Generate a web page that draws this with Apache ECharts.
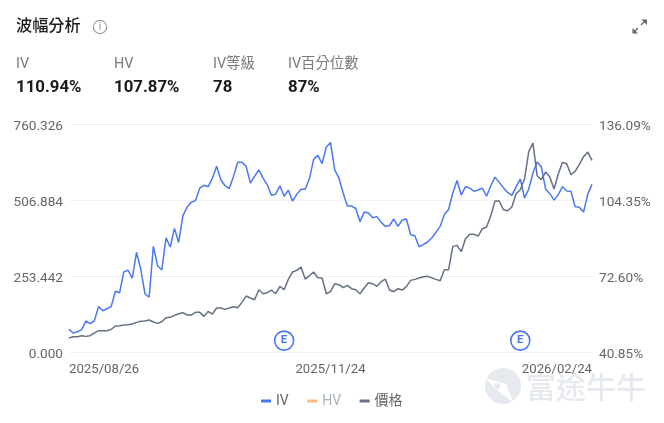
<!DOCTYPE html>
<html><head><meta charset="utf-8">
<style>html,body{margin:0;padding:0;background:#fff}#c{width:664px;height:423px}</style>
<script src="https://cdn.jsdelivr.net/npm/echarts@6/dist/echarts.min.js"></script>
</head><body><div id="c"></div>
<script>
const FONT = 'Roboto, "Noto Sans CJK TC", sans-serif';
const tickDates = {0:'2025/08/26', 62:'2025/11/24', 124:'2026/02/24'};
const ivValues = [50.3,48.8,49.3,50.2,53.8,52.7,53.8,59.8,58.1,58.9,59.8,66.2,65.6,74.3,75.0,71.7,82.5,75.5,65.2,63.7,85.0,76.9,75.1,88.5,84.7,92.5,86.6,97.8,101.4,103.4,104.1,109.3,110.5,109.9,113.5,118.4,
112.8,110.3,109.1,114.2,120.1,120.1,118.4,111.4,114.2,116.9,113.5,110.7,106.3,106.8,110.3,105.9,108.5,103.9,106.7,108.8,108.8,113.2,121.3,123.0,119.5,126.5,128.4,116.9,113.5,107.3,101.8,101.8,100.8,95.3,99.3,98.9,96.9,97.4,95.1,93.3,93.7,96.4,93.3,96.0,96.4,89.8,89.4,84.8,85.7,86.8,88.5,90.8,
93.3,98.3,100.4,107.3,112.5,106.4,110.0,109.3,108.0,108.5,109.3,105.9,110.3,113.9,111.7,109.5,107.5,106.3,109.8,113.1,105.2,108.9,115.6,120.2,118.1,108.9,107.0,104.3,106.6,109.9,108.1,108.0,101.5,101.3,99.3,106.8,110.94];
const priceValues = [46.6,51.0,51.0,54.4,52.1,54.4,63.2,71.0,71.0,71.0,75.5,86.6,87.7,89.9,91.0,93.3,98.8,102.2,103.3,106.6,99.9,95.5,101.0,114.4,115.5,122.2,127.7,131.0,123.3,123.3,132.2,132.2,118.8,135.5,126.6,146.6,
146.6,142.2,146.6,151.1,147.7,165.5,186.6,180.0,174.4,207.8,194.4,197.7,206.6,194.4,218.9,207.8,242.2,266.7,272.2,283.3,243.3,254.4,266.7,247.8,246.7,194.4,201.1,227.8,224.4,214.4,222.2,211.1,207.8,194.4,213.3,231.1,227.8,218.9,234.4,243.3,206.6,201.1,211.1,206.6,217.8,238.9,242.2,246.7,251.1,252.2,247.8,242.2,
237.8,274.4,274.4,352.3,355.6,334.5,377.8,392.3,392.3,386.7,411.2,416.7,454.5,503.4,503.4,474.5,471.2,483.4,527.9,541.2,576.8,667.9,696.8,587.9,574.6,600.1,583.5,543.4,593.5,632.4,627.9,591.2,602.4,625.7,651.3,666.8,639.0];
const hvValues = [];
const earningsIndex = [51, 107];
const stats = [['IV','110.94%'],['HV','107.87%'],['IV等級','78'],['IV百分位數','87%']];
const leftTicks = ['0.000','253.442','506.884','760.326'];
const rightTicks = ['40.85%','72.60%','104.35%','136.09%'];
const categories = ivValues.map((_, i) => tickDates[i] || String(i));

const BLUE='#4a78f2', GREY='#667085', ORANGE='#fdb782';
const statX=[16,114,213,288];
const ICON='#666';
const graphics=[
 {type:'text',x:16,y:27,style:{text:'波幅分析',font:'500 16.2px '+FONT,fill:'#1a1a1a',verticalAlign:'middle'}},
 {type:'circle',shape:{cx:100,cy:27,r:6.6},style:{fill:'none',stroke:'#a0a0a0',lineWidth:1.2}},
 {type:'text',x:100,y:27.5,style:{text:'i',font:'10px '+FONT,fill:'#909090',align:'center',verticalAlign:'middle'}},
 {type:'line',shape:{x1:641,y1:25,x2:645,y2:21},style:{stroke:ICON,lineWidth:1.3}},
 {type:'polygon',shape:{points:[[647,19.5],[647,25],[641.5,19.5]]},style:{fill:ICON}},
 {type:'line',shape:{x1:634,y1:32,x2:638,y2:28},style:{stroke:ICON,lineWidth:1.3}},
 {type:'polygon',shape:{points:[[632.5,33.5],[632.5,28],[638,33.5]]},style:{fill:ICON}},
 // watermark
 {type:'circle',shape:{cx:503,cy:386,r:18},style:{fill:'#e6eaee'},z:0},
 {type:'circle',shape:{cx:497,cy:386,r:3.5},style:{fill:'#fff'},z:0},
 {type:'polygon',shape:{points:[[485,378],[506,384],[513,402],[500,392]]},style:{fill:'#fff'},z:0},
 {type:'circle',shape:{cx:497,cy:386,r:3},style:{fill:'#e6eaee'},z:0},
 {type:'text',x:526,y:387,style:{text:'富途牛牛',font:'500 30px "Noto Sans CJK TC"',fill:'#e6eaee',verticalAlign:'middle'},z:0}
];
stats.forEach((s,i)=>{
 graphics.push({type:'text',x:statX[i],y:64,style:{text:s[0],font:'14.4px '+FONT,fill:'#7a7a7a',verticalAlign:'middle'}});
 graphics.push({type:'text',x:statX[i],y:88,style:{text:s[1],font:'700 16.8px '+FONT,fill:'#1a1a1a',verticalAlign:'middle'}});
});
const lineSeries=(name,data,color,yAxisIndex,extra)=>Object.assign({name,type:'line',data,yAxisIndex,symbol:'none',smooth:false,
 lineStyle:{color,width:1.5},itemStyle:{color},animation:false,z:3},extra||{});
const chart=echarts.init(document.getElementById('c'),null,{renderer:'canvas'});
chart.setOption({
 animation:false,backgroundColor:'#fff',
 textStyle:{fontFamily:FONT},
 grid:{left:69,right:72,top:124,bottom:71,containLabel:false},
 legend:{bottom:10,left:256,icon:'rect',itemWidth:10,itemHeight:3,itemGap:18.5,selectedMode:false,
  textStyle:{fontSize:14,color:'#666',fontFamily:FONT},
  data:[{name:'IV'},{name:'HV',textStyle:{color:'#aab2bd'}},{name:'價格'}]},
 xAxis:{type:'category',data:categories,boundaryGap:false,
  axisLine:{show:false},axisTick:{show:false},splitLine:{show:false},
  axisLabel:{interval:61,margin:11,fontSize:13.2,color:'#666',alignMinLabel:'left',alignMaxLabel:'right',hideOverlap:false}},
 yAxis:[
  {type:'value',min:0,max:760.326,interval:253.442,position:'left',
   axisLine:{show:false},axisTick:{show:false},splitLine:{lineStyle:{color:'#f2f2f2',width:1}},
   axisLabel:{margin:6,fontSize:13.6,color:'#666',verticalAlign:'top',lineHeight:6,formatter:(v,i)=>leftTicks[i]}},
  {type:'value',min:40.85,max:136.09,interval:31.7467,position:'right',
   axisLine:{show:false},axisTick:{show:false},splitLine:{show:false},
   axisLabel:{margin:7,fontSize:13.6,color:'#666',verticalAlign:'top',lineHeight:6,formatter:(v,i)=>rightTicks[i]}}
 ],
 series:[
  lineSeries('IV',ivValues,BLUE,1),
  lineSeries('HV',hvValues,ORANGE,1),
  lineSeries('價格',priceValues,GREY,0,{
   markPoint:{symbol:'circle',symbolSize:19,silent:true,animation:false,
    itemStyle:{color:'#fff',borderColor:BLUE,borderWidth:1.6},
    label:{show:true,formatter:'E',color:BLUE,fontSize:11.5,fontWeight:'bold',fontFamily:FONT},
    data:earningsIndex.map(i=>({coord:[categories[i],38]}))}})
 ],
 graphic:graphics
});
</script></body></html>
